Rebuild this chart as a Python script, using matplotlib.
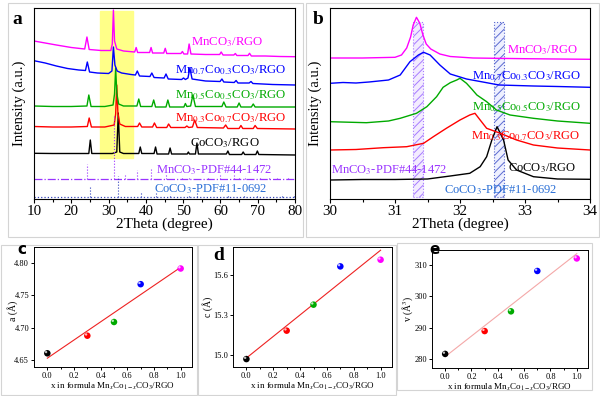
import matplotlib
matplotlib.use("Agg")
import matplotlib.pyplot as plt
import matplotlib.transforms as mtransforms
from matplotlib.patches import Rectangle
import numpy as np

plt.rcParams['font.family'] = ['Liberation Serif', 'DejaVu Serif']
plt.rcParams['mathtext.fontset'] = 'stix'
plt.rcParams['hatch.linewidth'] = 0.7

W, H = 600, 396

# ---------------- data (stacked a.u.) ----------------
sample_labels = [r'CoCO$_3$/RGO',
                 r'Mn$_{0.3}$Co$_{0.7}$CO$_3$/RGO',
                 r'Mn$_{0.5}$Co$_{0.5}$CO$_3$/RGO',
                 r'Mn$_{0.7}$Co$_{0.3}$CO$_3$/RGO',
                 r'MnCO$_3$/RGO']
sample_colors = ['#000000', '#ff0000', '#00aa00', '#0000ff', '#ff00ff']

# panel a: full XRD patterns, (2theta, intensity)
xrd_co = [(10, 45.7), (15, 45.5), (20, 45.5), (24.7, 45.5), (25.1, 59), (25.5, 45.5), (31, 45.5),
          (32.2, 47), (32.6, 86), (33.0, 47), (34, 45.5), (38.1, 45.5), (38.5, 52), (38.9, 45.5),
          (42.2, 45.5), (42.6, 52), (43, 45), (46.1, 45), (46.5, 51), (46.9, 45), (51.1, 45),
          (51.4, 47), (51.7, 45), (53.3, 45), (53.7, 56), (54.1, 45), (61.6, 45), (62, 48),
          (62.4, 44.5), (65.7, 44.5), (66.1, 47), (66.5, 44.5), (69.5, 44.5), (69.9, 48),
          (70.3, 44.5), (80, 44)]
xrd_mn03 = [(10, 72.5), (15, 72), (20, 72), (24.3, 72.5), (24.8, 81), (25.4, 72), (29, 72),
            (31.5, 74), (31.9, 85), (32.2, 114), (32.5, 86), (33.0, 75), (34.5, 72.5), (37.8, 72.5),
            (38.3, 76), (38.9, 72), (41.8, 72), (42.3, 76), (42.9, 71.5), (45.6, 71.5), (46.1, 75),
            (46.7, 71.5), (50.5, 71.5), (51.0, 73), (51.5, 71.5), (52.5, 72), (53.1, 79), (53.8, 71.5),
            (60.8, 71), (61.4, 74), (62, 70.5), (65, 70.5), (65.5, 73.5), (66, 70.5), (68.8, 70.5),
            (69.3, 73.5), (69.9, 70.5), (80, 70)]
xrd_mn05 = [(10, 93), (15, 92.5), (20, 92.5), (24.2, 93), (24.7, 104), (25.3, 92.5), (29, 92.5),
            (31.2, 94), (31.6, 105), (31.9, 131), (32.2, 106), (32.7, 95), (34, 93), (37.6, 93),
            (38.1, 100), (38.6, 92.5), (41.6, 92.5), (42.1, 99), (42.6, 92), (45.4, 92), (45.9, 99),
            (46.4, 92), (50.2, 92), (50.6, 95.5), (51.0, 92.5), (52.0, 93), (52.6, 104), (53.3, 92.5),
            (60.4, 92.5), (60.9, 97), (61.5, 92), (64.5, 92), (65.0, 96), (65.5, 92), (68.3, 92),
            (68.8, 95), (69.3, 92), (80, 92)]
xrd_mn07 = [(10, 138.3), (13, 136), (16, 133), (19, 130.5), (22, 129), (23.8, 128.5), (24.3, 137),
            (24.9, 127), (27, 126), (30, 125.5), (30.9, 128), (31.3, 152), (31.7, 134), (32.3, 128),
            (33.5, 126), (36, 124.5), (37.2, 124), (37.7, 128), (38.3, 123), (41.1, 122.5),
            (41.6, 126), (42.2, 121.5), (44.9, 121), (45.4, 125), (46, 120), (49.6, 119.5),
            (50.1, 121), (50.6, 119.5), (51.3, 121), (51.8, 131), (52.4, 120), (56, 118),
            (59.9, 117.5), (60.4, 120), (60.9, 117), (63.7, 116.5), (64.2, 118.5), (64.7, 116),
            (67.7, 116), (68.2, 117.5), (68.7, 115.5), (74, 114.5), (80, 114)]
xrd_mn = [(10, 158), (13, 156), (16, 154), (20, 151.5), (23.6, 150), (24.2, 162), (24.8, 149.5),
          (28, 148.5), (30.6, 148.5), (31.0, 155), (31.3, 189), (31.6, 158), (32.2, 150), (34, 148),
          (37.0, 147), (37.4, 151.5), (37.8, 146.5), (41.0, 146.5), (41.4, 151.5), (41.8, 146),
          (44.8, 146), (45.2, 150.7), (45.6, 145.5), (49.4, 145.5), (49.8, 147.5), (50.2, 145),
          (51.2, 145), (51.6, 155), (52.1, 145), (56, 144.5), (59.8, 144.5), (60.2, 147),
          (60.7, 144), (63.6, 144), (64.0, 145.5), (64.4, 143.5), (67.4, 143.5), (67.8, 145.7),
          (68.3, 143), (72, 143), (76, 142.5), (80, 142.3)]
xrd_full = [xrd_co, xrd_mn03, xrd_mn05, xrd_mn07, xrd_mn]

# reference cards (stick positions / stick tops)
mn_pdf_base = 19.7
mn_pdf_pos = [24.3, 31.4, 34.4, 37.6, 41.5, 45.3, 49.7, 51.7, 56.7, 59.8, 63.6, 65.0, 66.6,
              70.5, 72.9, 75.2, 78.0]
mn_pdf_top = [35, 84, 24, 29, 31, 25, 23, 22, 22, 24, 24, 22, 23, 22, 21.5, 21, 22]
co_pdf_base = 1.7
co_pdf_pos = [25.1, 32.6, 38.6, 42.6, 46.5, 51.5, 53.7, 62.0, 66.4, 69.8, 76.5, 79.6]
co_pdf_top = [12.3, 23, 7, 5.5, 5, 4, 6, 4, 4.5, 4.5, 4.5, 4.5]

# panel b: zoom 30-34 degree
zoom_co = [(30, 19), (30.5, 19.5), (31, 19.5), (31.5, 20), (31.85, 23), (32.15, 25.7), (32.31, 32.3),
           (32.41, 42.3), (32.49, 59), (32.57, 72.3), (32.67, 59), (32.74, 39), (32.87, 29),
           (33.13, 22.3), (33.5, 20), (34, 19.7)]
zoom_mn03 = [(30, 49), (30.4, 49.5), (30.82, 51.3), (31.18, 52.3), (31.44, 55.7), (31.59, 62.3),
             (31.79, 70.7), (32.0, 79), (32.15, 84), (32.23, 85.7), (32.31, 79), (32.41, 70.7),
             (32.62, 65.7), (32.87, 59), (33.13, 54), (33.5, 51), (34, 49)]
zoom_mn05 = [(30, 77.3), (30.56, 76.3), (30.9, 78), (31.08, 80.7), (31.33, 85.7), (31.49, 92.3),
             (31.64, 102.3), (31.74, 111.7), (31.85, 116.3), (31.95, 119), (32.0, 120.7),
             (32.1, 115.7), (32.18, 110), (32.26, 104), (32.41, 97.3), (32.56, 89), (32.77, 84),
             (33.13, 80.7), (33.5, 78), (34, 75.7)]
zoom_mn07 = [(30, 115.7), (30.2, 116.5), (30.4, 116), (30.6, 117), (30.9, 119), (31.08, 124),
             (31.23, 137.3), (31.36, 144), (31.44, 146.7), (31.54, 144), (31.69, 134), (31.85, 125),
             (32.1, 120), (32.41, 116.3), (32.6, 114), (33.13, 113), (33.5, 112.5), (34, 111.7)]
zoom_mn = [(30, 141), (30.5, 141), (31.0, 141.7), (31.1, 144), (31.18, 151), (31.24, 162),
           (31.28, 174), (31.33, 181.7), (31.38, 176), (31.43, 164), (31.48, 155), (31.55, 150),
           (31.69, 145), (31.85, 142.5), (32.2, 141), (33, 140.3), (34, 139.7)]
xrd_zoom = [zoom_co, zoom_mn03, zoom_mn05, zoom_mn07, zoom_mn]

# panels c-e: lattice parameters vs x
x_mn = [0.0, 0.3, 0.5, 0.7, 1.0]
lat_a = [4.661, 4.688, 4.709, 4.767, 4.791]
lat_c = [14.967, 15.18, 15.375, 15.662, 15.712]
cell_v = [281.6, 288.9, 295.2, 308.1, 312.1]


def px_rect(l, t, r, b):
    return [l / W, 1 - b / H, (r - l) / W, (b - t) / H]


fig = plt.figure(figsize=(6, 3.96), dpi=100)

# light grey picture frames
for l, t, r, b in [(8, 3, 303, 237), (306, 3, 599, 237), (1, 245, 197, 395),
                   (198, 245, 396, 395), (397, 243, 592, 390)]:
    fig.add_artist(Rectangle((l / W, 1 - b / H), (r - l) / W, (b - t) / H,
                             transform=fig.transFigure, fill=False, ec='#d4d4d4', lw=0.8))

mn_col = '#9933ff'
co_col = '#2a6fd6'

# ---------------- panel a ----------------
ax1 = fig.add_axes(px_rect(34, 7.5, 295, 199))
ax1.add_patch(Rectangle((27.8, 41), 36.6 - 27.8, 188 - 41, color='#ffff88', zorder=0))
for pts, c in zip(xrd_full, sample_colors):
    xs, ys = zip(*pts)
    ax1.plot(xs, ys, color=c, lw=1.0)
ax1.axhline(mn_pdf_base, color=mn_col, lw=0.9, ls='-.')
ax1.vlines(mn_pdf_pos, mn_pdf_base, mn_pdf_top, color=mn_col, lw=0.8, ls=':')
ax1.axhline(co_pdf_base, color='#3344bb', lw=0.9, ls=':')
ax1.vlines(co_pdf_pos, co_pdf_base, co_pdf_top, color='#3344bb', lw=0.8, ls=':')

a_lbl = [(51.9, 56), (47.9, 81), (47.9, 104), (47.9, 129), (52.2, 157)]
for (tx, ty), s, c in zip(a_lbl, sample_labels, sample_colors):
    ax1.text(tx, ty, s, color=c, fontsize=9.2, va='center')
ax1.text(42.8, 29, r'MnCO$_3$-PDF#44-1472', color=mn_col, fontsize=9, va='center')
ax1.text(42.3, 10, r'CoCO$_3$-PDF#11-0692', color=co_col, fontsize=9, va='center')

ax1.set_xlim(10, 80)
ax1.set_ylim(0, 191.5)
ax1.set_xticks(range(10, 81, 10))
ax1.set_xticks(range(15, 80, 10), minor=True)
ax1.set_yticks([])
ax1.tick_params(axis='x', direction='out', length=3, width=0.8, labelsize=10.8, pad=1)
ax1.tick_params(axis='x', which='minor', direction='out', length=2, width=0.8)
ax1.set_xlabel('2Theta (degree)', fontsize=11, labelpad=0)
ax1.set_ylabel('Intensity (a.u.)', fontsize=10.5, labelpad=6)

# ---------------- panel b ----------------
ax2 = fig.add_axes(px_rect(330, 7.5, 590, 199))
ax2.add_patch(Rectangle((31.28, 2), 0.15, 175, fc='#f3ebff', ec='#a77cff', lw=0.8, ls=':',
                        hatch='////', zorder=0))
ax2.add_patch(Rectangle((32.53, 2), 0.15, 175, fc='#eef0ff', ec='#5a6ad0', lw=0.8, ls=':',
                        hatch='////', zorder=0))
for pts, c in zip(xrd_zoom, sample_colors):
    xs, ys = zip(*pts)
    ax2.plot(xs, ys, color=c, lw=1.0)

b_lbl = [(32.74, 31), (32.17, 63), (32.18, 92), (32.18, 123), (32.72, 149)]
for (tx, ty), s, c in zip(b_lbl, sample_labels, sample_colors):
    ax2.text(tx, ty, s, color=c, fontsize=9, va='center')
ax2.text(30.02, 29, r'MnCO$_3$-PDF#44-1472', color=mn_col, fontsize=9, va='center')
ax2.text(31.75, 9, r'CoCO$_3$-PDF#11-0692', color=co_col, fontsize=9, va='center')

ax2.set_xlim(30, 34)
ax2.set_ylim(0, 191.5)
ax2.set_xticks([30, 31, 32, 33, 34])
ax2.set_xticks([30.5, 31.5, 32.5, 33.5], minor=True)
ax2.set_yticks([])
ax2.tick_params(axis='x', direction='out', length=3, width=0.8, labelsize=10.8, pad=1)
ax2.tick_params(axis='x', which='minor', direction='out', length=2, width=0.8)
ax2.set_xlabel('2Theta (degree)', fontsize=11, labelpad=0)
ax2.set_ylabel('Intensity (a.u.)', fontsize=10.5, labelpad=6)

fig.text(17 / W, 1 - 20 / H, 'a', fontsize=14, fontweight='bold', ha='center', va='center')
fig.text(318 / W, 1 - 19.5 / H, 'b', fontsize=14, fontweight='bold', ha='center', va='center')


# ---------------- panels c, d, e ----------------
def lattice_panel(rect, yvals, ylim, yticks, yfmt, ylabel, line_col, lab_off, lab_y=0.5):
    ax = fig.add_axes(px_rect(*rect))
    k, b0 = np.polyfit(x_mn, yvals, 1)
    ax.plot([0, 1], [b0, b0 + k], color=line_col, lw=0.8, zorder=1)
    ax.scatter(x_mn, yvals, s=22, c=sample_colors, edgecolors='none', zorder=3)
    shine = mtransforms.offset_copy(ax.transData, fig=fig, x=-0.9, y=0.9, units='points')
    ax.scatter(x_mn, yvals, s=3, c='white', alpha=0.75, edgecolors='none',
               transform=shine, zorder=4)
    ax.set_xlim(-0.1, 1.085)
    ax.set_ylim(*ylim)
    ax.set_xticks([0.0, 0.2, 0.4, 0.6, 0.8, 1.0])
    ax.set_xticks([0.1, 0.3, 0.5, 0.7, 0.9], minor=True)
    ax.set_yticks(yticks)
    ax.set_yticklabels([yfmt.format(v) for v in yticks])
    ax.tick_params(direction='out', length=2.5, width=0.7, labelsize=6, pad=1)
    ax.tick_params(which='minor', direction='out', length=1.5, width=0.7)
    for sp in ax.spines.values():
        sp.set_linewidth(0.7)
    ax.set_xlabel(r'x in formula Mn$_x$Co$_{1-x}$CO$_3$/RGO', fontsize=6.5, labelpad=0.5)
    ax.set_ylabel(ylabel, fontsize=7)
    # right edge of the rotated label, lab_off px left of the spine
    ax.yaxis.set_label_coords(-lab_off / (rect[2] - rect[0]), lab_y)
    return ax


lattice_panel((34, 247, 192, 367), lat_a, (4.64, 4.824), [4.65, 4.70, 4.75, 4.80], '{:.2f}',
              'a (Å)', '#ee2222', 16, 0.467)
lattice_panel((233, 247, 392, 367), lat_c, (14.9075, 15.8075), [15.0, 15.3, 15.6], '{:.1f}',
              'c (Å)', '#ee2222', 19.5)
lattice_panel((432, 250, 588, 368), cell_v, (277.1, 314.8), [280, 290, 300, 310], '{:.0f}',
              'v (Å$^3$)', '#f4a8a8', 17)

fig.text(22 / W, 1 - 249 / H, 'c', fontsize=11, fontweight='bold', family='DejaVu Sans',
         ha='center', va='center')
fig.text(219 / W, 1 - 255 / H, 'd', fontsize=14, fontweight='bold', ha='center', va='center')
fig.text(435 / W, 1 - 249 / H, 'e', fontsize=11, fontweight='bold', family='DejaVu Sans',
         ha='center', va='center')

fig.savefig('out.png', dpi=100)
